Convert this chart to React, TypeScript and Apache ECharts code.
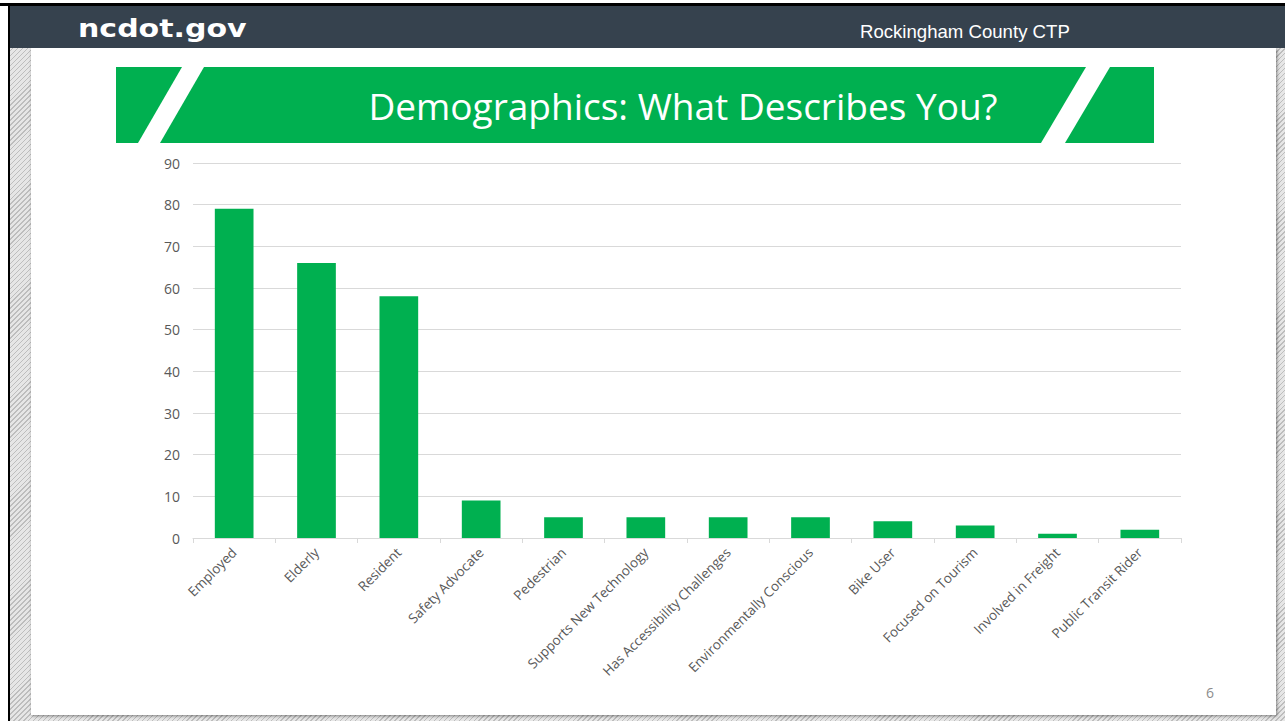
import React, { useEffect, useRef } from "react";
import * as echarts from "echarts";

const categories = [
  "Employed",
  "Elderly",
  "Resident",
  "Safety Advocate",
  "Pedestrian",
  "Supports New Technology",
  "Has Accessibility Challenges",
  "Environmentally Conscious",
  "Bike User",
  "Focused on Tourism",
  "Involved in Freight",
  "Public Transit Rider",
];
const counts = [79, 66, 58, 9, 5, 5, 5, 5, 4, 3, 1, 2];

const titleText = "Demographics: What Describes You?";
const headerLeft = "ncdot.gov";
const headerRight = "Rockingham County CTP";
const pageNumber = "6";

const GREEN = "#00b050";
const LABEL = "#595959";

export default function App() {
  const ref = useRef<HTMLDivElement>(null);
  useEffect(() => {
    const chart = echarts.init(ref.current!, null, { renderer: "svg" });
    chart.setOption({
      animation: false,
      backgroundColor: "transparent",
      grid: { left: 193, right: 104, top: 163, bottom: 183, containLabel: false },
      xAxis: {
        type: "category",
        data: categories,
        axisLine: { lineStyle: { color: "#d9d9d9", width: 1 } },
        axisTick: { show: true, length: 5, lineStyle: { color: "#d9d9d9" } },
        axisLabel: {
          interval: 0,
          rotate: 45,
          color: LABEL,
          fontSize: 13.5,
          fontFamily: "Open Sans",
          margin: 12,
        },
      },
      yAxis: {
        type: "value",
        min: 0,
        max: 90,
        interval: 10,
        axisLine: { show: false },
        axisTick: { show: false },
        axisLabel: { color: LABEL, fontSize: 14, fontFamily: "Open Sans", margin: 13 },
        splitLine: { lineStyle: { color: "#d9d9d9", width: 1 } },
      },
      series: [
        {
          type: "bar",
          data: counts,
          barWidth: "47%",
          itemStyle: { color: GREEN },
        },
      ],
      graphic: [
        { type: "rect", shape: { x: 0, y: 3, width: 1285, height: 3 }, style: { fill: "#000" }, z: 1 },
        { type: "rect", shape: { x: 8, y: 3, width: 2, height: 718 }, style: { fill: "#000" }, z: 1 },
        { type: "rect", shape: { x: 10, y: 6, width: 1275, height: 42 }, style: { fill: "#36424e" }, z: 1 },
        {
          type: "text",
          x: 78,
          y: 28,
          scaleX: 1.2,
          style: {
            text: headerLeft,
            fill: "#ffffff",
            font: "bold 25px 'DejaVu Sans'",
            textVerticalAlign: "middle",
          },
          z: 2,
        },
        {
          type: "text",
          x: 860,
          y: 31,
          style: {
            text: headerRight,
            fill: "#ffffff",
            font: "18.6px 'Liberation Sans'",
            textVerticalAlign: "middle",
          },
          z: 2,
        },
        { type: "rect", shape: { x: 116, y: 67, width: 1038, height: 76 }, style: { fill: GREEN }, z: 1 },
        { type: "polygon", shape: { points: [[182, 67], [204, 67], [160, 143], [138, 143]] }, style: { fill: "#ffffff" }, z: 2 },
        { type: "polygon", shape: { points: [[1086, 67], [1110, 67], [1065, 143], [1041, 143]] }, style: { fill: "#ffffff" }, z: 2 },
        {
          type: "text",
          x: 683,
          y: 105,
          style: {
            text: titleText,
            fill: "#ffffff",
            font: "37px 'Open Sans'",
            textAlign: "center",
            textVerticalAlign: "middle",
          },
          z: 3,
        },
        {
          type: "text",
          x: 1210,
          y: 692,
          style: {
            text: pageNumber,
            fill: "#8c8c8c",
            font: "14px 'Open Sans'",
            textAlign: "center",
            textVerticalAlign: "middle",
          },
          z: 2,
        },
      ],
    });
    return () => chart.dispose();
  }, []);
  return (
    <div
      style={{
        position: "fixed",
        left: 0,
        top: 0,
        width: 1285,
        height: 721,
        background: "#ffffff",
      }}
    >
      <div
        style={{
          position: "absolute",
          left: 10,
          top: 6,
          width: 1275,
          height: 715,
          background:
            "repeating-linear-gradient(135deg, #bdbdbd 0px, #bdbdbd 1px, #e6e6e6 1px, #e6e6e6 3.5px)",
        }}
      />
      <div
        style={{
          position: "absolute",
          left: 31,
          top: 48,
          width: 1245,
          height: 667,
          background: "#ffffff",
          boxShadow: "1px 1px 3px rgba(0,0,0,0.45)",
        }}
      />
      <div ref={ref} style={{ position: "absolute", left: 0, top: 0, width: 1285, height: 721 }} />
    </div>
  );
}
